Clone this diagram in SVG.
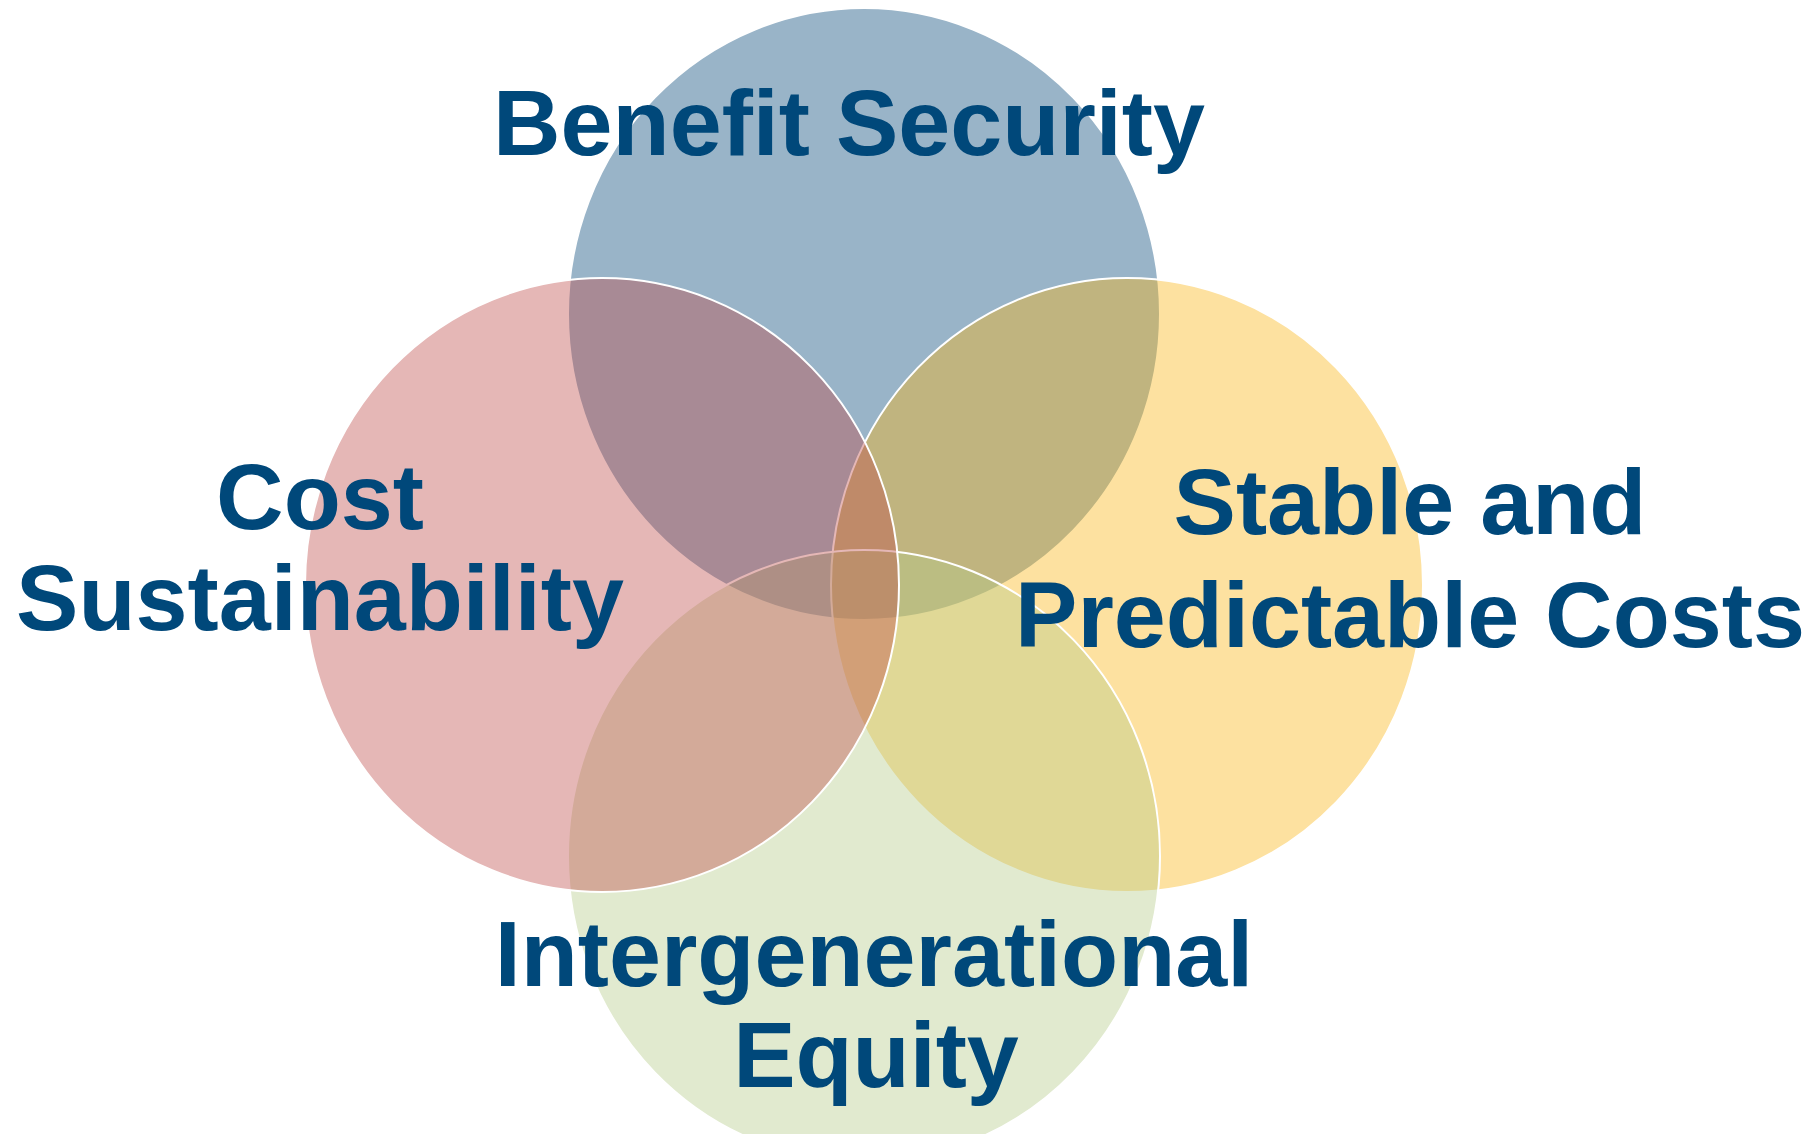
<svg xmlns="http://www.w3.org/2000/svg" width="1817" height="1134" viewBox="0 0 1817 1134">
<style>
.c{stroke:#ffffff;stroke-width:2;fill-opacity:0.4}
.t{font-family:"Liberation Sans",Arial,sans-serif;font-weight:bold;font-size:93.5px;fill:#00487A;text-anchor:middle}
</style>
<rect width="1817" height="1134" fill="#ffffff"/>
<g id="node-benefit">
<ellipse class="c" cx="864" cy="314" rx="296" ry="306" fill="#004476"/>
</g>
<g id="node-stable">
<ellipse class="c" cx="1127" cy="585" rx="296" ry="307" fill="#FAB411"/>
</g>
<g id="node-equity">
<ellipse class="c" cx="864" cy="856" rx="296" ry="306" fill="#B4CA87"/>
</g>
<g id="node-cost">
<ellipse class="c" cx="602" cy="585" rx="297" ry="307" fill="#BE4B49"/>
</g>
<g id="connectors"></g>
<g id="labels">
<text class="t" x="849" y="155">Benefit Security</text>
<text class="t" x="320" y="529">Cost</text>
<text class="t" x="320" y="630">Sustainability</text>
<text class="t" x="1410" y="534">Stable and</text>
<text class="t" x="1410" y="647">Predictable Costs</text>
<text class="t" x="874" y="986">Intergenerational</text>
<text class="t" x="876" y="1087">Equity</text>
</g>
</svg>
